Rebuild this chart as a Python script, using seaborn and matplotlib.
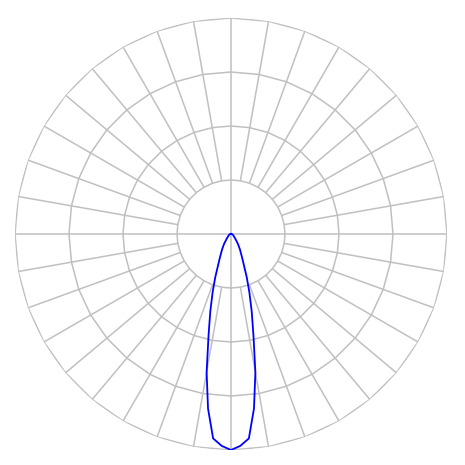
import numpy as np
import pandas as pd
import matplotlib
matplotlib.use("Agg")
import matplotlib.pyplot as plt
import seaborn as sns

# gamma angle from nadir (deg) and relative intensity
gamma = [0, 2.5, 5, 7.5, 10, 12.5, 15, 17.5, 20, 25, 30, 35, 40, 45, 50, 60, 70, 80, 90, 120, 150, 180]
intensity = [1.0, 0.982, 0.95, 0.815, 0.65, 0.48, 0.37, 0.283, 0.213, 0.123, 0.083,
             0.056, 0.035, 0.025, 0.018, 0.012, 0.008, 0.006, 0.004, 0.002, 0.001, 0.0]

ring_levels = [0.25, 0.5, 0.75, 1.0]
spoke_step = 10

sns.set_style("white")

# mirror the half-plane to get the full curve
ang = [-g for g in gamma[::-1]] + gamma[1:]
val = intensity[::-1] + intensity[1:]
df = pd.DataFrame({"theta": np.deg2rad(ang), "r": val})

fig = plt.figure(figsize=(4.65, 4.65), dpi=100)
ax = fig.add_axes([15 / 465, 15 / 465, 432 / 465, 432 / 465], projection="polar")
ax.set_theta_zero_location("S")
ax.set_ylim(0, 1)
ax.grid(False)
ax.set_xticks([])
ax.set_yticks([])
ax.spines["polar"].set_visible(False)

grid_col = "#c0c0c0"
spokes = np.deg2rad(np.arange(0, 360 + spoke_step, spoke_step))
for lvl in ring_levels:
    ax.plot(spokes, [lvl] * len(spokes), color=grid_col, lw=1.1, zorder=1)
for a in range(0, 360, spoke_step):
    r0 = 0 if a % 90 == 0 else ring_levels[0]
    ax.plot([np.deg2rad(a)] * 2, [r0, 1.0], color=grid_col, lw=1.1, zorder=1)

sns.lineplot(data=df, x="theta", y="r", ax=ax, sort=False, estimator=None,
             color="#0000ff", lw=1.3, zorder=3)
ax.set_xlabel("")
ax.set_ylabel("")
ax.set_ylim(0, 1)

fig.savefig("out.png", dpi=100)
